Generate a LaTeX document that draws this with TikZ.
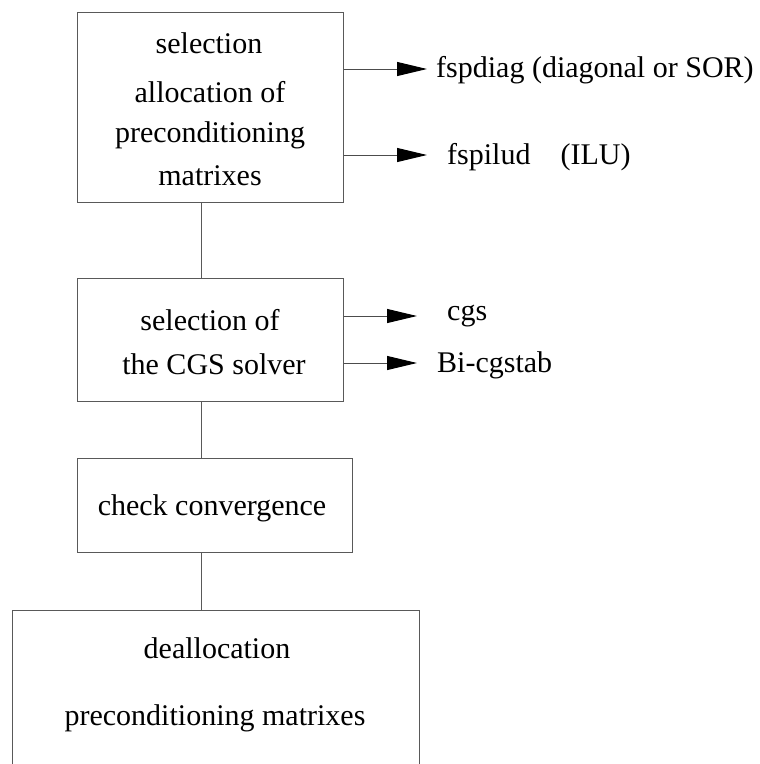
\documentclass[tikz,border=0pt]{standalone}
\usepackage{fontspec}
\setmainfont{Liberation Serif}
\usetikzlibrary{arrows.meta}
\begin{document}
\begin{tikzpicture}[x=1pt,y=-1pt,
    font=\fontsize{30}{36}\selectfont,
    stepbox/.style={draw=black!65, line width=1pt, rectangle, inner sep=0pt},
    txt/.style={anchor=mid, inner sep=0pt},
    lbl/.style={anchor=mid west, inner sep=0pt},
    link/.style={draw=black!65, line width=1pt},
    arr/.style={draw=black!70, line width=1pt,
      -{Triangle[length=30pt,width=14pt,color=black,fill=black]}}]
  \useasboundingbox (0,0) rectangle (760,764);
  \clip (0,0) rectangle (760,764);

  % boxes of the flow
  \node[stepbox, minimum width=266pt, minimum height=190pt] (b1) at (210,107) {};
  \node[stepbox, minimum width=266pt, minimum height=123pt] (b2) at (210,339.5) {};
  \node[stepbox, minimum width=275pt, minimum height=94pt] (b3) at (214.5,505) {};
  \node[stepbox, minimum width=407pt, minimum height=200pt] (b4) at (215.5,710) {};

  % texts in the boxes
  \node[txt] (t1a) at (209,51) {selection};
  \node[txt] (t1b) at (210,100) {allocation of};
  \node[txt] (t1c) at (210,140) {preconditioning};
  \node[txt] (t1d) at (210,183) {matrixes};
  \node[txt] (t2a) at (210,328) {selection of};
  \node[txt] (t2b) at (214,372) {the CGS solver};
  \node[txt] (t3a) at (212,513) {check convergence};
  \node[txt] (t4a) at (217,656) {deallocation};
  \node[txt] (t4b) at (215,723) {preconditioning matrixes};

  % vertical links between the boxes
  \coordinate (cx) at (201,0);
  \draw[link] (b1.south -| cx) -- (b2.north -| cx);
  \draw[link] (b2.south -| cx) -- (b3.north -| cx);
  \draw[link] (b3.south -| cx) -- (b4.north -| cx);

  % preconditioner choices
  \coordinate (p1) at (427,69);
  \coordinate (p2) at (427,155);
  \draw[arr] (b1.east |- p1) -- (p1);
  \draw[arr] (b1.east |- p2) -- (p2);
  \node[lbl] (l1) at (436,75) {fspdiag (diagonal or SOR)};
  \node[lbl] (l2) at (447,162) {fspilud\quad(ILU)};

  % solver choices
  \coordinate (s1) at (417,316);
  \coordinate (s2) at (417,363);
  \draw[arr] (b2.east |- s1) -- (s1);
  \draw[arr] (b2.east |- s2) -- (s2);
  \node[lbl] (l3) at (447,318) {cgs};
  \node[lbl] (l4) at (437,370) {Bi-cgstab};
\end{tikzpicture}
\end{document}
